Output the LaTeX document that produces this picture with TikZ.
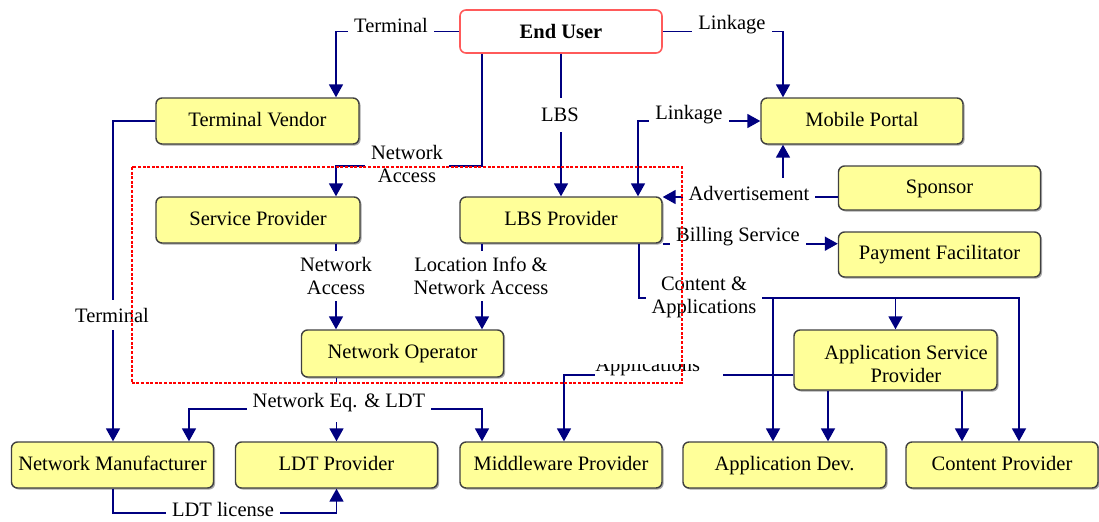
\documentclass[tikz,border=0pt]{standalone}
\usepackage{fontspec}
\newfontfamily\lserif{Liberation Serif}
\usetikzlibrary{arrows.meta}
\definecolor{boxfill}{HTML}{FFFF99}
\definecolor{connblue}{HTML}{000080}
\definecolor{eured}{HTML}{FF5A5A}
\definecolor{shadowgray}{HTML}{A8A8A8}
\begin{document}
\begin{tikzpicture}[x=0.5pt,y=-0.5pt,
  every node/.style={font=\lserif\fontsize{10.25}{11.5}\selectfont},
  box/.style={draw=black!75, line width=0.7pt, fill=boxfill, rounded corners=3pt,
    minimum width=101pt, minimum height=23pt, inner sep=0pt, text height=7pt, text depth=2pt},
  shad/.style={fill=shadowgray, rounded corners=3pt, inner sep=0pt},
  eubox/.style={draw=eured, line width=0.8pt, fill=white, rounded corners=3pt,
    minimum width=101pt, minimum height=21.5pt, inner sep=0pt},
  conn/.style={draw=connblue, line width=0.9pt},
  arr/.style={conn, -{Triangle[width=7pt,length=6.5pt]}},
  arrtwo/.style={conn, {Triangle[width=7pt,length=6.5pt]}-{Triangle[width=7pt,length=6.5pt]}},
  lbl/.style={fill=white, inner xsep=3pt, inner ysep=2pt, align=center},
  redbox/.style={draw=red, line width=1pt, dash pattern=on 1.5pt off 0.8pt}
]
\useasboundingbox (0,0) rectangle (1099,521);

% shadows
\foreach \cx/\cy/\w/\h in {257.5/121/101.5/23, 862/121/101/23, 258/220/102/23, 561/220/101/23,
  939.5/188/101/22, 939.5/254.5/101/22.5, 402.5/353.5/101/23.5, 895.5/360/101.5/30,
  112.5/465/101/23, 336.5/465/101/23, 561/465/101/23, 784.5/465/101.5/23, 1002/465/96/23}
  \fill[shadowgray, rounded corners=3pt] (\cx-\w+1.6,\cy-\h+1.6) rectangle (\cx+\w+1.6,\cy+\h+1.6);

% nodes
\node[eubox] (eu) at (561,31.5) {\bfseries End User};
\node[box, minimum width=101.5pt] (tv) at (257.5,121) {Terminal Vendor};
\node[box] (mp) at (862,121) {Mobile Portal};
\node[box, minimum width=102pt] (sp) at (258,220) {Service Provider};
\node[box] (lbs) at (561,220) {LBS Provider};
\node[box, minimum height=22pt] (spo) at (939.5,188) {Sponsor};
\node[box, minimum height=22.5pt] (pf) at (939.5,254.5) {Payment Facilitator};
\node[box, minimum height=23.5pt] (no) at (402.5,353.5) {Network Operator};
\node[box, minimum width=101.5pt, minimum height=30pt] (asp) at (895.5,360) {};
\node[align=center, inner sep=0pt] (asptext) at (906,364) {Application Service\\Provider};
\node[box] (nm) at (112.5,465) {Network Manufacturer};
\node[box] (ldt) at (336.5,465) {LDT Provider};
\node[box] (mw) at (561,465) {Middleware Provider};
\node[box, minimum width=101.5pt] (ad) at (784.5,465) {Application Dev.};
\node[box, minimum width=96pt] (cp) at (1002,465) {Content Provider};

% junction coordinates
\coordinate (advj) at (783,197);
\coordinate (neq) at (337,409);
\coordinate (capp) at (639,298);

% connectors
\draw[arr] (eu.west) -- (336,0 |- eu.west) -- (336,0 |- tv.north);
\draw[arr] (eu.east) -- (783,0 |- eu.east) -- (783,0 |- mp.north);
\draw[arr] (eu.south) -- (lbs.north);
\draw[arr] (482,0 |- eu.south) -- (482,166) -- (336,166) -- (336,0 |- sp.north);
\draw[arrtwo] (638,0 |- lbs.north) -- (638,0 |- mp.west) -- (mp.west);
\draw[arr] (spo.west |- advj) -- (lbs.east |- advj);
\draw[arr] (advj) -- (783,0 |- mp.south);
\draw[arr] (lbs.south east) -- (pf.west |- lbs.south east);
\draw[arr] (639,0 |- lbs.south) -- (capp) -- (1019,298) -- (1019,0 |- cp.north);
\draw[arr] (773,298) -- (773,0 |- ad.north);
\draw[arr] (asp.north |- capp) -- (asp.north);
\draw[arr] (tv.west) -- (113,0 |- tv.west) -- (113,0 |- nm.north);
\draw[arr] (336,0 |- sp.south) -- (336,0 |- no.north);
\draw[arr] (482,0 |- lbs.south) -- (482,0 |- no.north);
\draw[arr] (ldt.north |- no.south) -- (ldt.north);
\draw[arr] (neq) -- (189,409) -- (189,0 |- nm.north);
\draw[arr] (neq) -- (482,409) -- (482,0 |- mw.north);
\draw[arr] (113,0 |- nm.south) -- (113,513) -- (ldt.south |- 0,513) -- (ldt.south);
\draw[arr] (828,0 |- asp.south) -- (828,0 |- ad.north);
\draw[arr] (962,0 |- asp.south) -- (962,0 |- cp.north);
\draw[arr] (asp.west |- 0,375) -- (564,375) -- (564,0 |- mw.north);

% labels
\node[lbl] (lterm) at (391,25) {Terminal};
\node[lbl] (llink) at (732,25) {Linkage};
\node[lbl, inner ysep=5pt] (llbs) at (560,115) {LBS};
\node[lbl] (llinktwo) at (689,115) {Linkage};
\node[lbl, inner ysep=0pt] (lnaone) at (407,164) {Network\\Access};
\node[lbl, inner ysep=4pt] (ladv) at (749,193) {Advertisement};
\node[lbl] (lbill) at (738,237) {Billing Service};
\node[lbl, inner ysep=0pt] (lcont) at (704,297.5) {Content \&\\Applications};
\node[lbl, inner ysep=4pt] (ltermtwo) at (112,315) {Terminal};
\node[lbl, inner ysep=3pt] (lnatwo) at (336,276) {Network\\Access};
\node[lbl, inner ysep=3pt] (lloc) at (481,276) {Location Info \&\\Network Access};
\node[lbl, inner ysep=5pt] (leq) at (339,403) {Network Eq. \& LDT};
\node[lbl, inner ysep=1pt] (lldt) at (223,509) {LDT license};
\begin{scope}
\clip (585,364) rectangle (730,392);
\node[lbl, anchor=base west, inner xsep=0pt, text width=64pt, align=left] (lappl) at (595,371) {Applications};
\end{scope}

% dotted boundary
\draw[redbox] (131.5,167) rectangle (681.5,383);
\end{tikzpicture}
\end{document}
